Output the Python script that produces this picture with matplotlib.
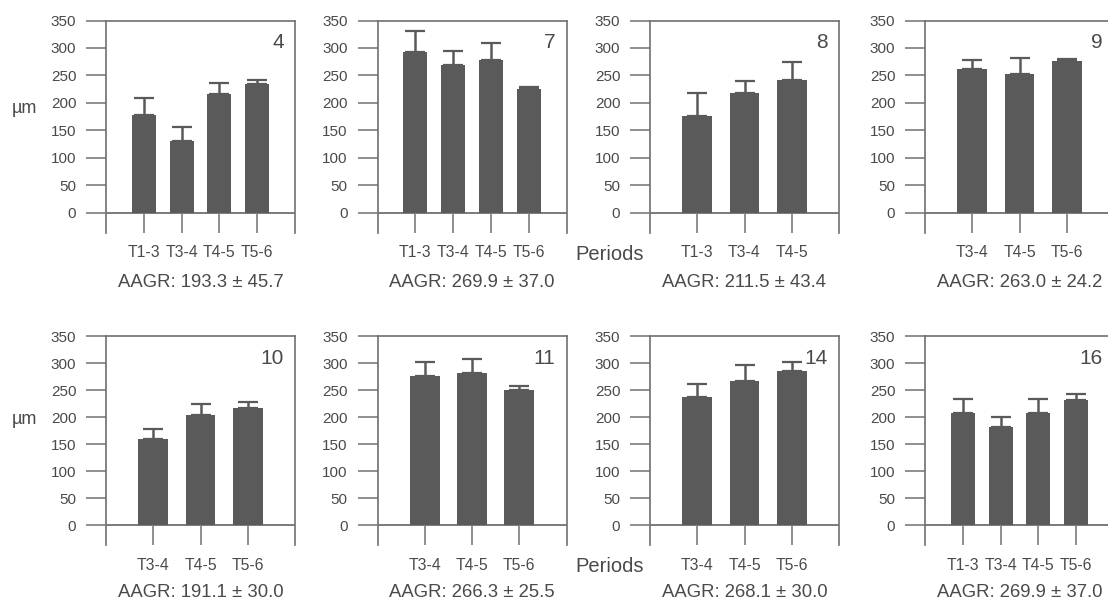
import matplotlib
matplotlib.use("Agg")
import matplotlib.pyplot as plt
import numpy as np

plt.rcParams['font.family'] = ['Liberation Sans', 'DejaVu Sans']

# ---- data ----
panel_ids = ["4", "7", "8", "9", "10", "11", "14", "16"]
periods_4 = ["T1-3", "T3-4", "T4-5", "T5-6"]
periods_8 = ["T1-3", "T3-4", "T4-5"]
periods_late = ["T3-4", "T4-5", "T5-6"]
panel_periods = [periods_4, periods_4, periods_8, periods_late,
                 periods_late, periods_late, periods_late, periods_4]

means_4 = [178, 131, 217, 234]
errs_4 = [30, 25, 20, 7]
means_7 = [292, 269, 278, 226]
errs_7 = [38, 25, 31, 2]
means_8 = [176, 218, 241]
errs_8 = [42, 21, 34]
means_9 = [261, 252, 277]
errs_9 = [17, 30, 2]
means_10 = [160, 204, 216]
errs_10 = [17, 21, 12]
means_11 = [276, 282, 250]
errs_11 = [25, 26, 8]
means_14 = [237, 267, 285]
errs_14 = [25, 29, 17]
means_16 = [208, 182, 208, 232]
errs_16 = [26, 18, 26, 11]
panel_means = [means_4, means_7, means_8, means_9, means_10, means_11, means_14, means_16]
panel_errs = [errs_4, errs_7, errs_8, errs_9, errs_10, errs_11, errs_14, errs_16]

aagr_mean = [193.3, 269.9, 211.5, 263.0, 191.1, 266.3, 268.1, 269.9]
aagr_sd = [45.7, 37.0, 43.4, 24.2, 30.0, 25.5, 30.0, 37.0]

yticks = [0, 50, 100, 150, 200, 250, 300, 350]

# ---- layout (pixels) ----
W, H = 1108, 602
fig = plt.figure(figsize=(W / 100, H / 100), dpi=100)
fig.patch.set_facecolor('white')

col_left = [106, 377.5, 650, 925]
row_top = [20.5, 336]
row_bot = [233, 545]
ax_w = 189

bar_c = '#5a5a5a'
line_c = '#707070'
text_c = '#4a4a4a'

for i in range(8):
    r, c = divmod(i, 4)
    left = col_left[c]
    top, bot = row_top[r], row_bot[r]
    ax = fig.add_axes([left / W, 1 - bot / H, ax_w / W, (bot - top) / H])
    labels = panel_periods[i]
    n = len(labels)
    x = np.arange(n)
    ax.bar(x, panel_means[i], width=0.63, color=bar_c, zorder=2)
    ax.errorbar(x, panel_means[i], yerr=[np.zeros(n), panel_errs[i]], fmt='none',
                ecolor=bar_c, elinewidth=1.8, capsize=7.5, capthick=1.6, zorder=3)
    ax.set_xlim(-1, n)
    ax.set_ylim(-37, 350)
    ax.axhline(0, color=line_c, lw=1.3, zorder=1)
    ax.set_yticks(yticks)
    ax.set_yticklabels([str(v) for v in yticks])
    ax.set_xticks(x)
    ax.set_xticklabels(labels)
    ax.tick_params(axis='y', direction='out', length=14.4, width=1.1, color=line_c,
                   labelsize=11, labelcolor=text_c, pad=7)
    ax.tick_params(axis='x', direction='in', length=14, width=1.1, color=line_c,
                   labelsize=11.3, labelcolor=text_c, pad=9)
    for s in ['left', 'right', 'top']:
        ax.spines[s].set_color(line_c)
        ax.spines[s].set_linewidth(1.2)
    ax.spines['bottom'].set_visible(False)
    ax.text(1 - 11 / ax_w, 1 - 22 / (bot - top), panel_ids[i], transform=ax.transAxes,
            ha='right', va='center', fontsize=15, color=text_c)
    # AAGR caption below
    cap_y = [282.7, 592.5][r]
    fig.text((left + ax_w / 2) / W, 1 - cap_y / H,
             f"AAGR: {aagr_mean[i]:.1f} \u00b1 {aagr_sd[i]:.1f}",
             ha='center', va='center', fontsize=13.3, color=text_c)

for y in [108, 420]:
    fig.text(24 / W, 1 - y / H, "\u00b5m", ha='center', va='center', fontsize=13, color=text_c)
for y in [254, 567]:
    fig.text(610 / W, 1 - y / H, "Periods", ha='center', va='center', fontsize=14.5, color=text_c)

fig.savefig("out.png", dpi=100, facecolor='white')
